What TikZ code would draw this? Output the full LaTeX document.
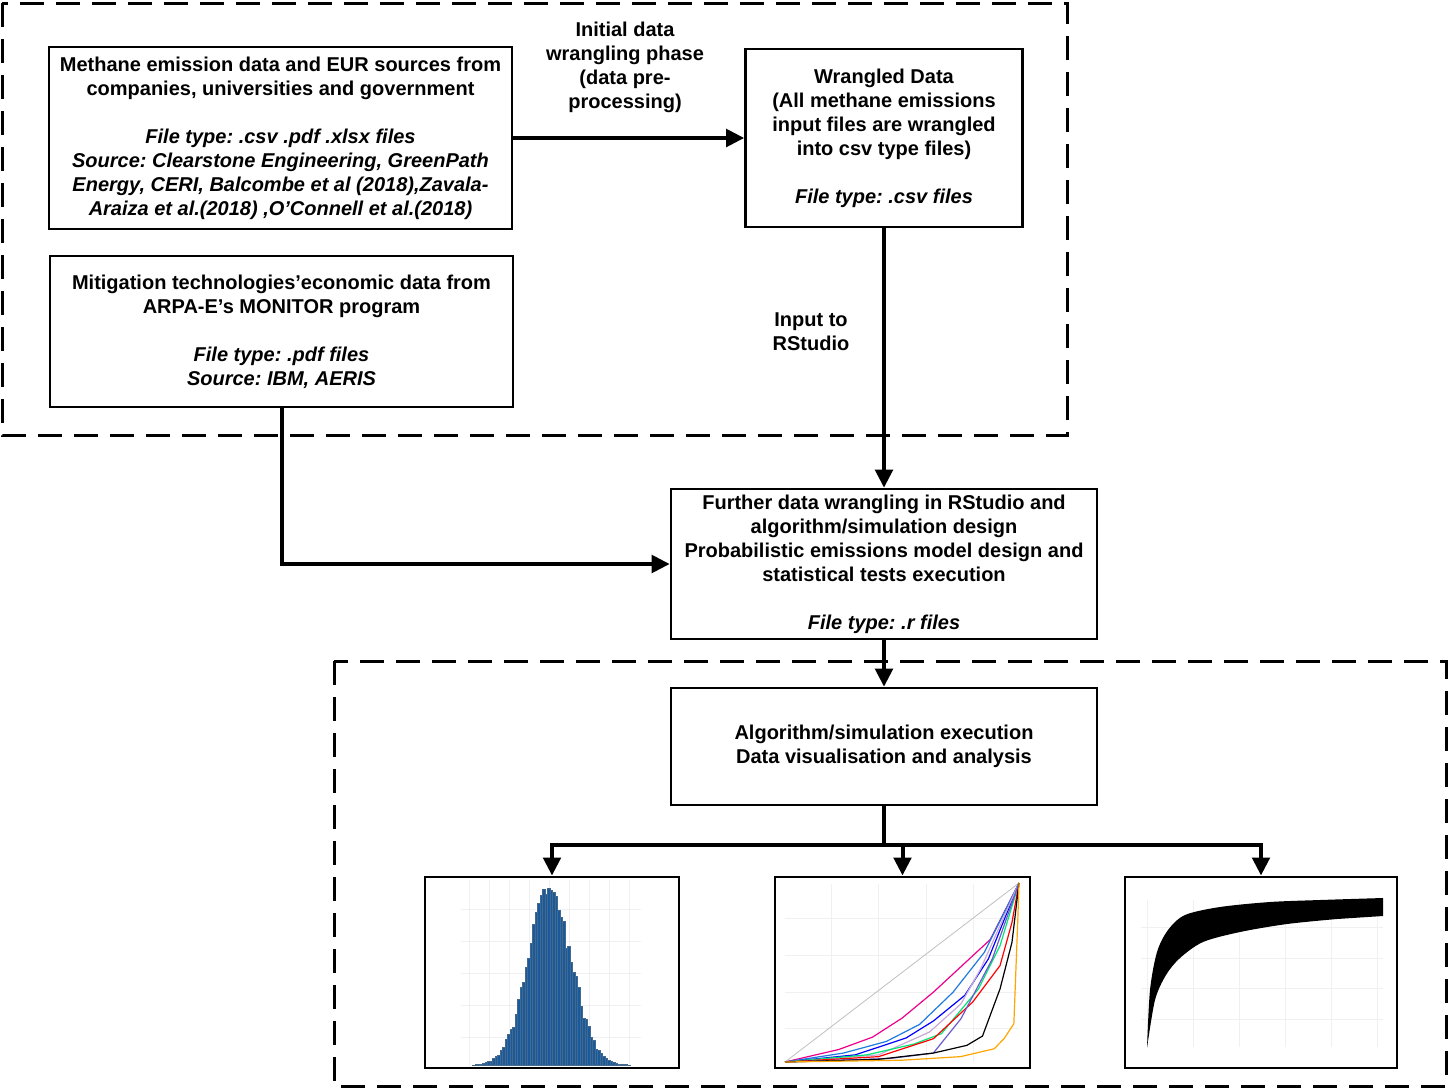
\documentclass[tikz,border=0pt]{standalone}
\usepackage{fontspec}
\setmainfont{Liberation Sans}
\usetikzlibrary{arrows.meta}
\frenchspacing

\definecolor{histblue}{HTML}{1B5A9A}
\definecolor{dodger}{HTML}{1E7BDF}
\definecolor{springgreen}{HTML}{00E676}
\definecolor{thistle}{HTML}{C8A8D8}
\definecolor{slateblue}{HTML}{6A5ACD}
\definecolor{orangeline}{HTML}{FFA500}

\begin{document}
\begin{tikzpicture}[x=0.75pt, y=-0.75pt,
  box/.style={draw, line width=1.9pt, inner sep=0pt, align=center,
    font=\fontsize{15}{18}\selectfont\bfseries},
  plotbox/.style={draw, line width=2.2pt, inner sep=0pt, minimum height=143.25pt},
  arrow/.style={line width=3pt, -{Triangle[length=13.5pt, width=13pt]}},
  dashbox/.style={line width=2.25pt, dash pattern=on 18pt off 9pt},
  lbl/.style={align=center, font=\fontsize{15}{18}\selectfont\bfseries}]

  \useasboundingbox (0,0) rectangle (1449,1089);

  % Dashed frames
    \draw[dashbox] (2,3) rectangle (1067,435);
    \draw[dashbox] (334,661) rectangle (1446,1086);

  % Boxes
    \node[box, minimum width=347.25pt, minimum height=136.5pt] (methane) at (280.5,138)
      {Methane emission data and EUR sources from\\
       companies, universities and government\\[18pt]
       \textit{File type: .csv .pdf .xlsx files}\\
       \textit{Source: Clearstone Engineering, GreenPath}\\
       \textit{Energy, CERI, Balcombe et al (2018),Zavala-}\\
       \textit{Araiza et al.(2018) ,O’Connell et al.(2018)}};
    \node[box, minimum width=347.25pt, minimum height=113.25pt] (mitig) at (281.5,331.5)
      {Mitigation technologies’economic data from\\
       ARPA-E’s MONITOR program\\[18pt]
       \textit{File type: .pdf files}\\
       \textit{Source: IBM, AERIS}};
    \node[box, minimum width=207.75pt, minimum height=133.5pt] (wrangled) at (884,138)
      {Wrangled Data\\
       (All methane emissions\\
       input files are wrangled\\
       into csv type files)\\[18pt]
       \textit{File type: .csv files}};
    \node[box, minimum width=319.5pt, minimum height=112.5pt] (further) at (884,564)
      {Further data wrangling in RStudio and\\
       algorithm/simulation design\\
       Probabilistic emissions model design and\\
       statistical tests execution\\[18pt]
       \textit{File type: .r files}};
    \node[box, minimum width=319.5pt, minimum height=87.75pt] (algo) at (884,746.5)
      {Algorithm/simulation execution\\
       Data visualisation and analysis};

  % Plot frames
    \node[plotbox, minimum width=190.5pt] (hist) at (552,972.5) {};
    \node[plotbox, minimum width=191.25pt] (lorenz) at (902.5,972.5) {};
    \node[plotbox, minimum width=204pt] (band) at (1261,972.5) {};

  % Labels
    \node[lbl] (initlbl) at (625,67) {Initial data\\wrangling phase\\(data pre-\\processing)};
    \node[lbl] (inputlbl) at (811,332) {Input to\\RStudio};

  % Connectors
    \draw[arrow] (methane.east) -- (wrangled.west);
    \draw[arrow] (wrangled.south) -- (further.north);
    \draw[arrow] (mitig.south) |- (further.west);
    \draw[arrow] (further.south) -- (algo.north);
    \coordinate (split) at (884,845);
    \draw[line width=3pt] (algo.south) -- (split);
    \draw[arrow] (split) -| (hist.north);
    \draw[arrow] (split) -| (lorenz.north);
    \draw[arrow] (split) -| (band.north);

  % Histogram
    \foreach \x in {469,489,...,629} {
      \draw[gray!12, line width=0.4pt] (\x,880) -- (\x,1066);
    }
    \foreach \y in {909,941,973,1005,1037} {
      \draw[gray!12, line width=0.4pt] (461,\y) -- (641,\y);
    }
    \pgfmathsetseed{3}
    \foreach \i in {0,...,62} {
      \pgfmathsetmacro{\bx}{472.5+2.5*\i}
      \pgfmathsetmacro{\bh}{170*exp(-((\bx+1.25-550)^2)/(2*22^2))*(0.86+0.24*rnd)}
      \filldraw[fill=histblue, draw=histblue!60!gray, line width=0.15pt]
        (\bx,1065) rectangle ({\bx+2.5},{1065-\bh});
    }

  % Lorenz curves
    \foreach \x in {831,878,926,973} {
      \draw[gray!12, line width=0.4pt] (\x,884) -- (\x,1062);
    }
    \foreach \y in {918,955,992,1028} {
      \draw[gray!12, line width=0.4pt] (785,\y) -- (1019,\y);
    }
    \begin{scope}[shift={(785,1062)}, x=175.5pt, y=134.25pt, line width=0.9pt, line join=round]
      \draw[gray!50, line width=0.6pt] (0,0) -- (1,1);
      \draw[magenta] (0,0) -- (0.23,0.07) -- (0.374,0.139) -- (0.5,0.245) -- (0.634,0.39) -- (0.877,0.684) -- (1,1);
      \draw[dodger] (0,0) -- (0.25,0.05) -- (0.433,0.115) -- (0.575,0.21) -- (0.718,0.39) -- (0.852,0.613) -- (1,1);
      \draw[blue] (0,0) -- (0.3,0.04) -- (0.517,0.134) -- (0.634,0.229) -- (0.768,0.372) -- (0.869,0.576) -- (1,1);
      \draw[thistle] (0,0) -- (0.4,0.04) -- (0.617,0.167) -- (0.752,0.325) -- (0.836,0.52) -- (1,1);
      \draw[springgreen] (0,0) -- (0.35,0.04) -- (0.55,0.1) -- (0.668,0.158) -- (0.827,0.409) -- (0.919,0.65) -- (1,1);
      \draw[red] (0,0) -- (0.4,0.03) -- (0.634,0.13) -- (0.802,0.335) -- (0.919,0.539) -- (0.97,0.78) -- (1,1);
      \draw[slateblue] (0,0) -- (0.45,0.02) -- (0.634,0.05) -- (0.752,0.242) -- (0.886,0.576) -- (1,1);
      \draw[black] (0,0) -- (0.4,0.015) -- (0.634,0.05) -- (0.777,0.093) -- (0.844,0.145) -- (0.919,0.409) -- (0.97,0.669) -- (1,1);
      \draw[orangeline] (0,0) -- (0.5,0.01) -- (0.75,0.03) -- (0.894,0.074) -- (0.936,0.13) -- (0.978,0.214) -- (0.995,0.8) -- (1,1);
    \end{scope}

  % Simulation band
    \foreach \x in {1147,1193,1239,1285,1331,1377} {
      \draw[gray!12, line width=0.4pt] (\x,900) -- (\x,1047);
    }
    \foreach \y in {927,958,988,1019} {
      \draw[gray!12, line width=0.4pt] (1141,\y) -- (1383,\y);
    }
    \fill[black] plot[smooth] coordinates {(1147,1048) (1150,990) (1157,952) (1168,930) (1185,915) (1220,907) (1270,902) (1320,900) (1383,898)}
      -- (1383,916)
      -- plot[smooth] coordinates {(1337,919) (1287,924) (1240,932) (1203,942) (1180,958) (1166,975) (1155,1000) (1147,1048)}
      -- cycle;

\end{tikzpicture}
\end{document}
